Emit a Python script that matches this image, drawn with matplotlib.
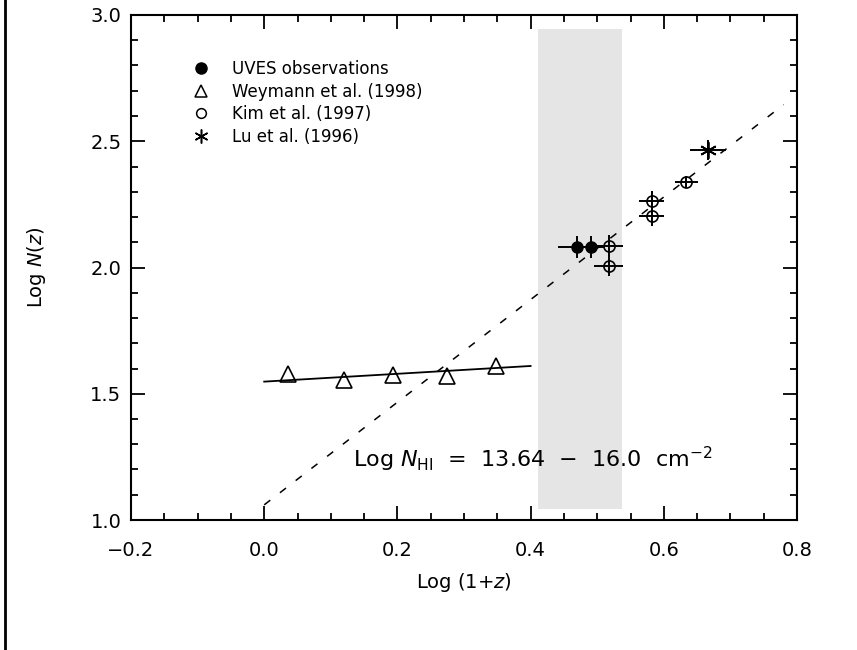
import matplotlib
matplotlib.use("Agg")
import matplotlib.pyplot as plt
from matplotlib.lines import Line2D
from matplotlib.ticker import MultipleLocator, FuncFormatter

plt.rcParams['font.family'] = ['DejaVu Sans']
plt.rcParams['mathtext.fontset'] = 'dejavusans'

# ---- data ----
# Weymann et al. (1998)
wey_x = [0.036, 0.120, 0.193, 0.274, 0.348]
wey_y = [1.578, 1.555, 1.574, 1.570, 1.610]
wey_fit_x = [0.0, 0.40]
wey_fit_y = [1.548, 1.610]

# UVES observations
uves_x = [0.469, 0.491]
uves_y = [2.082, 2.082]
uves_xerr = [0.028, 0.020]
uves_yerr = [0.043, 0.043]

# Kim et al. (1997)
kim_x = [0.517, 0.517, 0.582, 0.582, 0.634]
kim_y = [2.087, 2.005, 2.263, 2.204, 2.339]
kim_xerr = [0.022, 0.022, 0.019, 0.019, 0.017]
kim_yerr = [0.040, 0.040, 0.040, 0.040, 0.025]

# Lu et al. (1996)
lu_x = [0.667]
lu_y = [2.464]
lu_xerr = [0.027]
lu_yerr = [0.040]

# high-z fit (dashed)
fit_x = [0.0, 0.78]
fit_y = [1.06, 2.645]

# shaded redshift range
shade_x = [0.411, 0.537]
shade_y = [1.044, 2.944]

legend_labels = ["UVES observations", "Weymann et al. (1998)",
                 "Kim et al. (1997)", "Lu et al. (1996)"]

# ---- figure ----
fig = plt.figure(figsize=(8.57, 6.5), dpi=100)
ax = fig.add_axes([131/857, 1 - 520/650, (797 - 131)/857, (520 - 15)/650])

ax.fill_between(shade_x, shade_y[0], shade_y[1], color='#e5e5e5', lw=0, zorder=0)

ax.plot(fit_x, fit_y, ls=(0, (5, 8)), color='black', lw=1.1, zorder=1)
ax.plot(wey_fit_x, wey_fit_y, ls='-', color='black', lw=1.3, zorder=1)

ax.plot(wey_x, wey_y, ls='none', marker='^', ms=11, mfc='none', mec='black',
        mew=1.2, zorder=3)

ax.errorbar(uves_x, uves_y, xerr=uves_xerr, yerr=uves_yerr, fmt='o', ms=8,
            color='black', mfc='black', ecolor='black', elinewidth=1.4,
            capsize=0, zorder=3)
ax.errorbar(kim_x, kim_y, xerr=kim_xerr, yerr=kim_yerr, fmt='o', ms=8,
            mfc='none', mec='black', mew=1.2, ecolor='black', elinewidth=1.4,
            capsize=0, zorder=3)
ax.errorbar(lu_x, lu_y, xerr=lu_xerr, yerr=lu_yerr, fmt='none',
            ecolor='black', elinewidth=1.4, capsize=0, zorder=3)
ax.plot(lu_x, lu_y, ls='none', marker=(6, 2, 0), ms=12, color='black',
        mew=1.3, zorder=4)

ax.set_xlim(-0.2, 0.8)
ax.set_ylim(1.0, 3.0)
ax.xaxis.set_major_locator(MultipleLocator(0.2))
ax.xaxis.set_minor_locator(MultipleLocator(0.05))
ax.yaxis.set_major_locator(MultipleLocator(0.5))
ax.yaxis.set_minor_locator(MultipleLocator(0.1))
ax.tick_params(which='both', direction='in', top=True, right=True,
               width=1.3, labelsize=14)
ax.tick_params(which='major', length=10)
ax.tick_params(which='minor', length=5)
ax.tick_params(axis='x', which='major', pad=15)
ax.tick_params(axis='y', which='major', pad=7)
ax.xaxis.set_major_formatter(FuncFormatter(
    lambda v, p: ("\u2212" if v < -1e-9 else "") + f"{abs(v):.1f}"))
ax.yaxis.set_major_formatter(FuncFormatter(lambda v, p: f"{v:.1f}"))
for s in ax.spines.values():
    s.set_linewidth(1.5)

ax.set_xlabel(r'Log (1+$z$)', fontsize=14, labelpad=8)
ax.set_ylabel(r'Log $N(z)$', fontsize=14, labelpad=30)

ax.text(0.134, 1.24, r'Log $N_{\rm HI}$  =  13.64  $-$  16.0  cm$^{-2}$',
        fontsize=16, ha='left', va='center', zorder=5)

handles = [
    Line2D([], [], ls='none', marker='o', ms=8, color='black'),
    Line2D([], [], ls='none', marker='^', ms=9, mfc='none', mec='black', mew=1.1),
    Line2D([], [], ls='none', marker='o', ms=7, mfc='none', mec='black', mew=1.1),
    Line2D([], [], ls='none', marker=(6, 2, 0), ms=10, color='black', mew=1.1),
]
ax.legend(handles, legend_labels, loc='upper left',
          bbox_to_anchor=(0.08, 0.927), frameon=False, fontsize=12,
          handlelength=1.0, handletextpad=1.35, labelspacing=0.27,
          borderpad=0.0)

fig.add_artist(Line2D([5/857, 5/857], [0, 1], color='black', lw=2,
                      transform=fig.transFigure))

fig.savefig('out.png', dpi=100, facecolor='white')
